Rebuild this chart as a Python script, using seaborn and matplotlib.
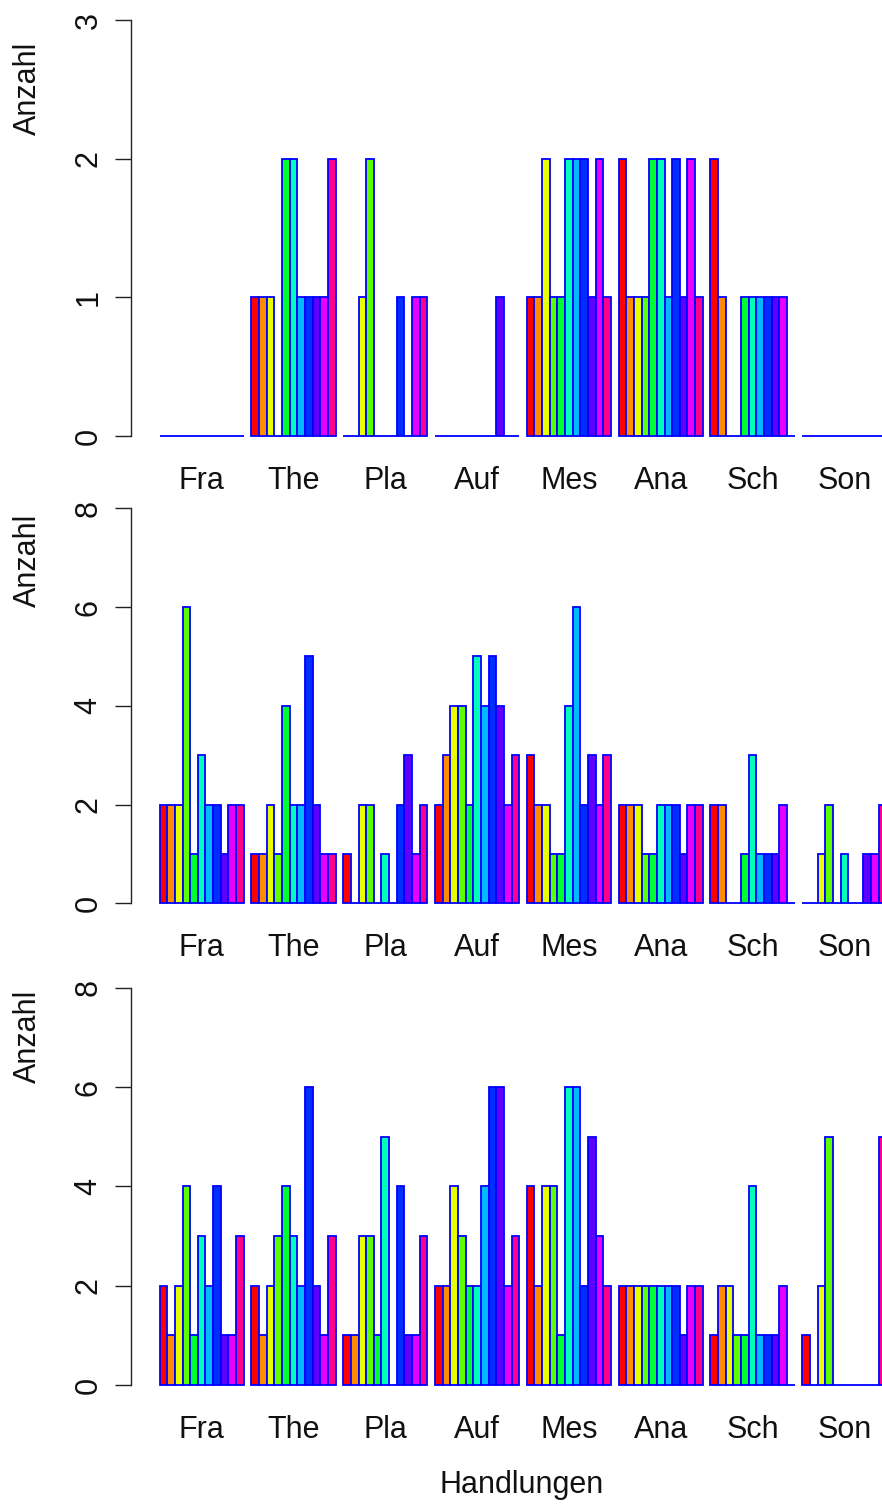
import matplotlib
matplotlib.use("Agg")
import matplotlib.pyplot as plt
import seaborn as sns
import pandas as pd

groups = ["Fra", "The", "Pla", "Auf", "Mes", "Ana", "Sch", "Son"]
series = [f"s{i+1}" for i in range(11)]
colors = ["#FF0000", "#FF8B00", "#E8FF00", "#5DFF00", "#00FF2E", "#00FFB9",
          "#00B9FF", "#002EFF", "#5D00FF", "#E800FF", "#FF008B"]

counts_top = [
    [0, 0, 0, 0, 0, 0, 0, 0, 0, 0, 0],
    [1, 1, 1, 0, 2, 2, 1, 1, 1, 1, 2],
    [0, 0, 1, 2, 0, 0, 0, 1, 0, 1, 1],
    [0, 0, 0, 0, 0, 0, 0, 0, 1, 0, 0],
    [1, 1, 2, 1, 1, 2, 2, 2, 1, 2, 1],
    [2, 1, 1, 1, 2, 2, 1, 2, 1, 2, 1],
    [2, 1, 0, 0, 1, 1, 1, 1, 1, 1, 0],
    [0, 0, 0, 0, 0, 0, 0, 0, 0, 0, 0],
]
counts_mid = [
    [2, 2, 2, 6, 1, 3, 2, 2, 1, 2, 2],
    [1, 1, 2, 1, 4, 2, 2, 5, 2, 1, 1],
    [1, 0, 2, 2, 0, 1, 0, 2, 3, 1, 2],
    [2, 3, 4, 4, 2, 5, 4, 5, 4, 2, 3],
    [3, 2, 2, 1, 1, 4, 6, 2, 3, 2, 3],
    [2, 2, 2, 1, 1, 2, 2, 2, 1, 2, 2],
    [2, 2, 0, 0, 1, 3, 1, 1, 1, 2, 0],
    [0, 0, 1, 2, 0, 1, 0, 0, 1, 1, 2],
]
counts_bot = [
    [2, 1, 2, 4, 1, 3, 2, 4, 1, 1, 3],
    [2, 1, 2, 3, 4, 3, 2, 6, 2, 1, 3],
    [1, 1, 3, 3, 1, 5, 0, 4, 1, 1, 3],
    [2, 2, 4, 3, 2, 2, 4, 6, 6, 2, 3],
    [4, 2, 4, 4, 1, 6, 6, 2, 5, 3, 2],
    [2, 2, 2, 2, 2, 2, 2, 2, 1, 2, 2],
    [1, 2, 2, 1, 1, 4, 1, 1, 1, 2, 0],
    [1, 0, 2, 5, 0, 0, 0, 0, 0, 0, 5],
]
yticks_top = [0, 1, 2, 3]
yticks_other = [0, 2, 4, 6, 8]

sns.set_theme(style="white")
plt.rcParams["font.family"] = ["Liberation Sans", "DejaVu Sans"]

W, H = 882, 1505
fig = plt.figure(figsize=(W / 100, H / 100), dpi=100)

def to_df(counts):
    rows = []
    for g, vals in zip(groups, counts):
        for s, v in zip(series, vals):
            rows.append({"group": g, "series": s, "value": v})
    return pd.DataFrame(rows)

palette = dict(zip(series, colors))

x_left, x_right = 130.5, 915.5
panels = [
    (counts_top, (3.4, 452.6), yticks_top, 88),
    (counts_mid, (492.5, 919.1), yticks_other, 560),
    (counts_bot, (972.0, 1400.9), yticks_other, 1036),
]

for i, (counts, (ytop, ybot), yt, ylab_y) in enumerate(panels):
    ax = fig.add_axes([x_left / W, (H - ybot) / H,
                       (x_right - x_left) / W, (ybot - ytop) / H])
    df = to_df(counts)
    sns.barplot(data=df, x="group", y="value", hue="series", order=groups,
                hue_order=series, palette=palette, width=11 / 12, dodge=True,
                gap=0, saturation=1, edgecolor="#0000FF", linewidth=1.3,
                errorbar=None, legend=False, ax=ax)
    ymax = yt[-1]
    pad = 0.04 * ymax
    ax.set_ylim(-pad, ymax + pad)
    ax.set_xlim(-0.775, 7.775)
    ax.set_yticks(yt)
    ax.set_yticklabels([str(v) for v in yt])
    for s in ["top", "right", "bottom"]:
        ax.spines[s].set_visible(False)
    ax.spines["left"].set_bounds(0, ymax)
    ax.spines["left"].set_color("#222222")
    ax.spines["left"].set_linewidth(1.0)
    ax.tick_params(axis="y", length=11.5, width=1.0, color="#222222",
                   pad=8, labelrotation=90, labelsize=22, labelcolor="#111111", left=True)
    ax.tick_params(axis="x", length=0, pad=10, labelsize=22, labelcolor="#111111")
    for lab in ax.get_yticklabels():
        lab.set_va("center")
    ax.set_ylabel("Anzahl", fontsize=22, color="#111111", va="center")
    ax.yaxis.set_label_coords((28 - x_left) / (x_right - x_left),
                              (ybot - ylab_y) / (ybot - ytop))
    if i == 2:
        ax.set_xlabel("Handlungen", fontsize=22, color="#111111", va="center")
        ax.xaxis.set_label_coords((522 - x_left) / (x_right - x_left),
                                  (ybot - 1485) / (ybot - ytop))
    else:
        ax.set_xlabel("")
    ax.set_facecolor("none")

fig.savefig("out.png", dpi=100, facecolor="white")
